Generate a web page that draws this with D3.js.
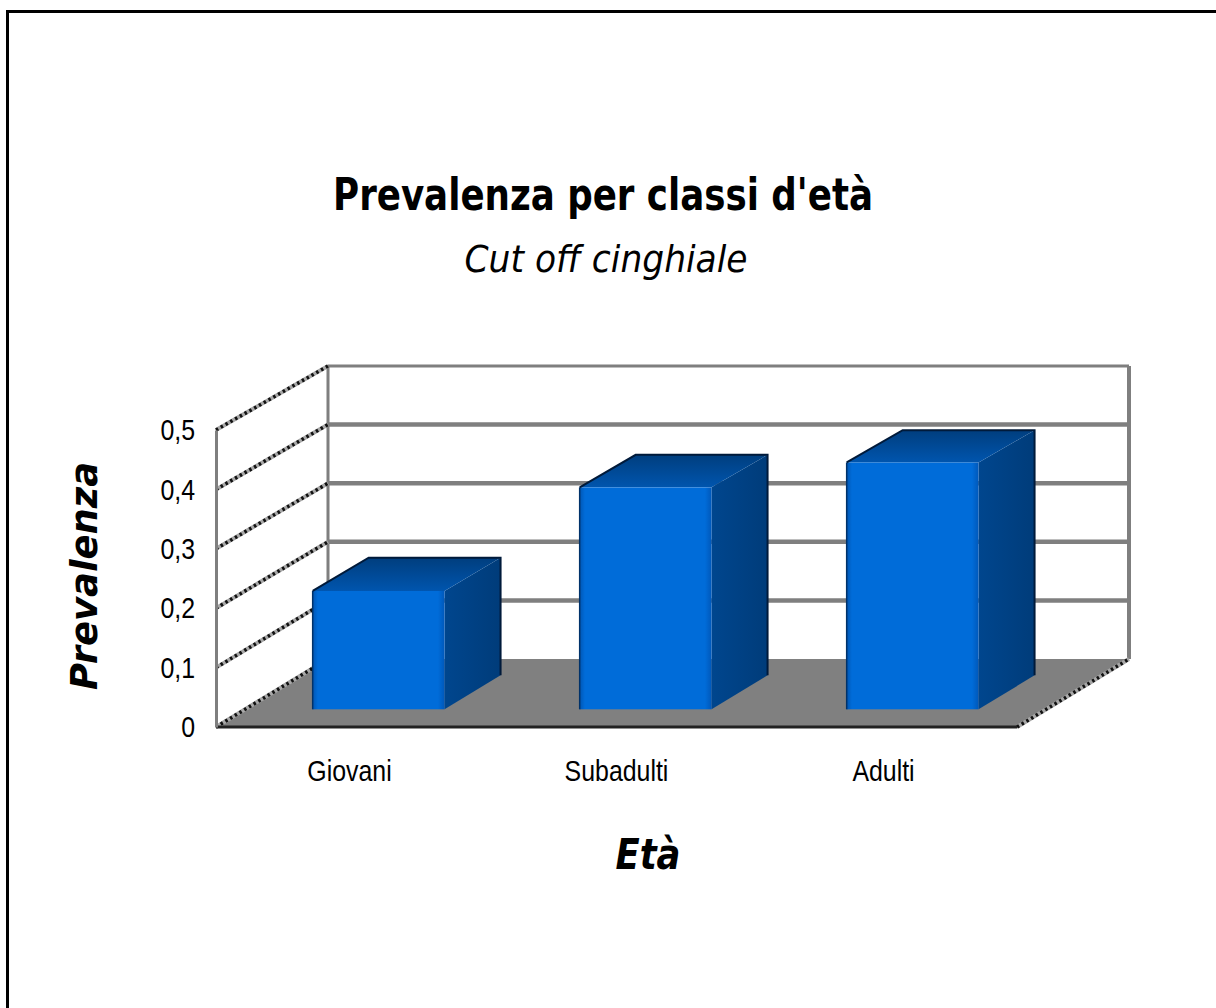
<!DOCTYPE html>
<html>
<head>
<meta charset="utf-8">
<script src="https://cdnjs.cloudflare.com/ajax/libs/d3/7.8.5/d3.min.js"></script>
<style>
  html, body { margin: 0; padding: 0; background: #fff; }
  svg { display: block; }
</style>
</head>
<body>
<svg id="chart" width="1216" height="1008"></svg>
<script>
// Data
const categories = ["Giovani", "Subadulti", "Adulti"];
const prevalence = [0.2, 0.375, 0.417];
const yTicks = [0, 0.1, 0.2, 0.3, 0.4, 0.5];
const yTickLabels = ["0", "0,1", "0,2", "0,3", "0,4", "0,5"];
const titleText = "Prevalenza per classi d'età";
const subtitleText = "Cut off cinghiale";
const yTitleText = "Prevalenza";
const xTitleText = "Età";

const svg = d3.select("#chart");

// Outer frame
svg.append("rect")
  .attr("x", 7.5).attr("y", 11.5)
  .attr("width", 1400).attr("height", 1200)
  .attr("fill", "#fff").attr("stroke", "#000").attr("stroke-width", 3);

// 3D projection: front plane and back plane scales, depth offset in x
const x = d3.scaleBand(categories, [216, 1017]).paddingInner(0.506).paddingOuter(0.253);
const yFront = d3.scaleLinear([0, 0.5], [727, 430]);
const yBack = d3.scaleLinear([0, 0.5], [659, 366]);
const depthX = 112;
function proj(px, v, t) {
  return [px + t * depthX, yFront(v) * (1 - t) + yBack(v) * t];
}
const x0 = x.range()[0], x1 = x.range()[1];

const defs = svg.append("defs");
const gFront = defs.append("linearGradient").attr("id", "frontGrad");
gFront.append("stop").attr("offset", "0%").attr("stop-color", "#0056B4");
gFront.append("stop").attr("offset", "4%").attr("stop-color", "#006CD9");
gFront.append("stop").attr("offset", "95%").attr("stop-color", "#006CD9");
gFront.append("stop").attr("offset", "100%").attr("stop-color", "#0058BA");
const gTop = defs.append("linearGradient").attr("id", "topGrad")
  .attr("x1", 0).attr("y1", 1).attr("x2", 0).attr("y2", 0);
gTop.append("stop").attr("offset", "0%").attr("stop-color", "#0055AE");
gTop.append("stop").attr("offset", "100%").attr("stop-color", "#003E7E");
const gSide = defs.append("linearGradient").attr("id", "sideGrad");
gSide.append("stop").attr("offset", "0%").attr("stop-color", "#00468E");
gSide.append("stop").attr("offset", "100%").attr("stop-color", "#003C7A");

const wall = svg.append("g");
const line = d3.line();

// Dithered diagonal lines on the side wall and floor edges
function dithered(p, q) {
  wall.append("path").attr("d", line([p, q]))
    .attr("stroke", "#a8a8a8").attr("stroke-width", 4).attr("fill", "none");
  wall.append("path").attr("d", line([p, q]))
    .attr("stroke", "#111").attr("stroke-width", 3.5).attr("fill", "none")
    .attr("stroke-dasharray", "2.5 3");
}

// Back wall gridlines
yTicks.filter(v => v > 0).forEach(v => {
  const a = proj(x0, v, 1), b = proj(x1, v, 1);
  wall.append("path").attr("d", line([a, b]))
    .attr("stroke", "#7f7f7f").attr("stroke-width", v === 0.5 ? 3 : 4.5);
});
// Back wall vertical edges
[x0, x1].forEach(px => {
  wall.append("path").attr("d", line([proj(px, 0, 1), proj(px, 0.5, 1)]))
    .attr("stroke", "#7f7f7f").attr("stroke-width", px === x1 ? 4 : 3);
});

// Floor
wall.append("path")
  .attr("d", line([proj(x0, 0, 0), proj(x1, 0, 0), proj(x1, 0, 1), proj(x0, 0, 1)]) + "Z")
  .attr("fill", "#808080");

// Side wall diagonals
yTicks.filter(v => v > 0).forEach(v => dithered(proj(x0, v, 0), proj(x0, v, 1)));
dithered(proj(x0, 0, 0), proj(x0, 0, 1));
dithered(proj(x1, 0, 0), proj(x1, 0, 1));

// Floor front edge
wall.append("path").attr("d", line([proj(x0, 0, 0), proj(x1, 0, 0)]))
  .attr("stroke", "#222").attr("stroke-width", 3);

// Narrow sans labels (horizontally condensed)
const labelFont = "'Liberation Sans', Arial, sans-serif";
const narrow = 0.83;

// Y axis on the front edge of the side wall
const yAxis = d3.axisLeft(yFront)
  .tickValues(yTicks)
  .tickFormat((d, i) => yTickLabels[i])
  .tickSize(0).tickPadding(21 / narrow);
const yAxisG = svg.append("g").attr("transform", `translate(${x0},0)`).call(yAxis);
yAxisG.select(".domain").attr("stroke", "#7f7f7f").attr("stroke-width", 3);
yAxisG.selectAll("text")
  .attr("font-family", labelFont)
  .attr("font-size", 30).attr("fill", "#000")
  .attr("transform", `scale(${narrow},1)`);

// Bars
const t0 = 0.26, t1 = 0.76;
const bars = svg.append("g");
categories.forEach((c, i) => {
  const v = prevalence[i];
  const L = x(c), R = x(c) + x.bandwidth();
  const fbl = proj(L, 0, t0), fbr = proj(R, 0, t0), ftl = proj(L, v, t0), ftr = proj(R, v, t0);
  const bbr = proj(R, 0, t1), btl = proj(L, v, t1), btr = proj(R, v, t1);
  // side face
  bars.append("path").attr("d", line([fbr, bbr, btr, ftr]) + "Z")
    .attr("fill", "url(#sideGrad)");
  // top face
  bars.append("path").attr("d", line([ftl, ftr, btr, btl]) + "Z")
    .attr("fill", "url(#topGrad)");
  // front face
  bars.append("rect")
    .attr("x", ftl[0]).attr("y", ftl[1])
    .attr("width", fbr[0] - fbl[0]).attr("height", fbl[1] - ftl[1])
    .attr("fill", "url(#frontGrad)");
  // dark outline on the far edges
  bars.append("path").attr("d", line([ftl, btl, btr, bbr]))
    .attr("fill", "none").attr("stroke", "#001a3a").attr("stroke-width", 2);
  bars.append("path").attr("d", line([fbl, ftl]))
    .attr("fill", "none").attr("stroke", "#00326a").attr("stroke-width", 1.5);
});

// Category axis
const xAxis = d3.axisBottom(x).tickSize(0).tickPadding(0);
const xAxisG = svg.append("g").attr("transform", "translate(0,760)").call(xAxis);
xAxisG.select(".domain").remove();
xAxisG.selectAll("text")
  .attr("font-family", labelFont)
  .attr("font-size", 30).attr("fill", "#000")
  .attr("transform", `scale(${narrow},1)`);

// Titles
const handFont = "'Comic Sans MS', 'DejaVu Sans', sans-serif";
svg.append("text").text(titleText)
  .attr("x", 603).attr("y", 210).attr("text-anchor", "middle")
  .attr("font-family", handFont).attr("font-weight", "bold").attr("font-size", 44)
  .attr("textLength", 540).attr("lengthAdjust", "spacingAndGlyphs");
svg.append("text").text(subtitleText)
  .attr("x", 606).attr("y", 272).attr("text-anchor", "middle")
  .attr("font-family", handFont).attr("font-style", "italic").attr("font-size", 38)
  .attr("textLength", 283).attr("lengthAdjust", "spacingAndGlyphs");
svg.append("text").text(yTitleText)
  .attr("transform", "translate(97,576) rotate(-90)").attr("text-anchor", "middle")
  .attr("font-family", handFont).attr("font-weight", "bold").attr("font-style", "italic")
  .attr("font-size", 38)
  .attr("textLength", 228).attr("lengthAdjust", "spacingAndGlyphs");
svg.append("text").text(xTitleText)
  .attr("x", 648).attr("y", 869).attr("text-anchor", "middle")
  .attr("font-family", handFont).attr("font-weight", "bold").attr("font-style", "italic")
  .attr("font-size", 42)
  .attr("textLength", 65).attr("lengthAdjust", "spacingAndGlyphs");
</script>
</body>
</html>
